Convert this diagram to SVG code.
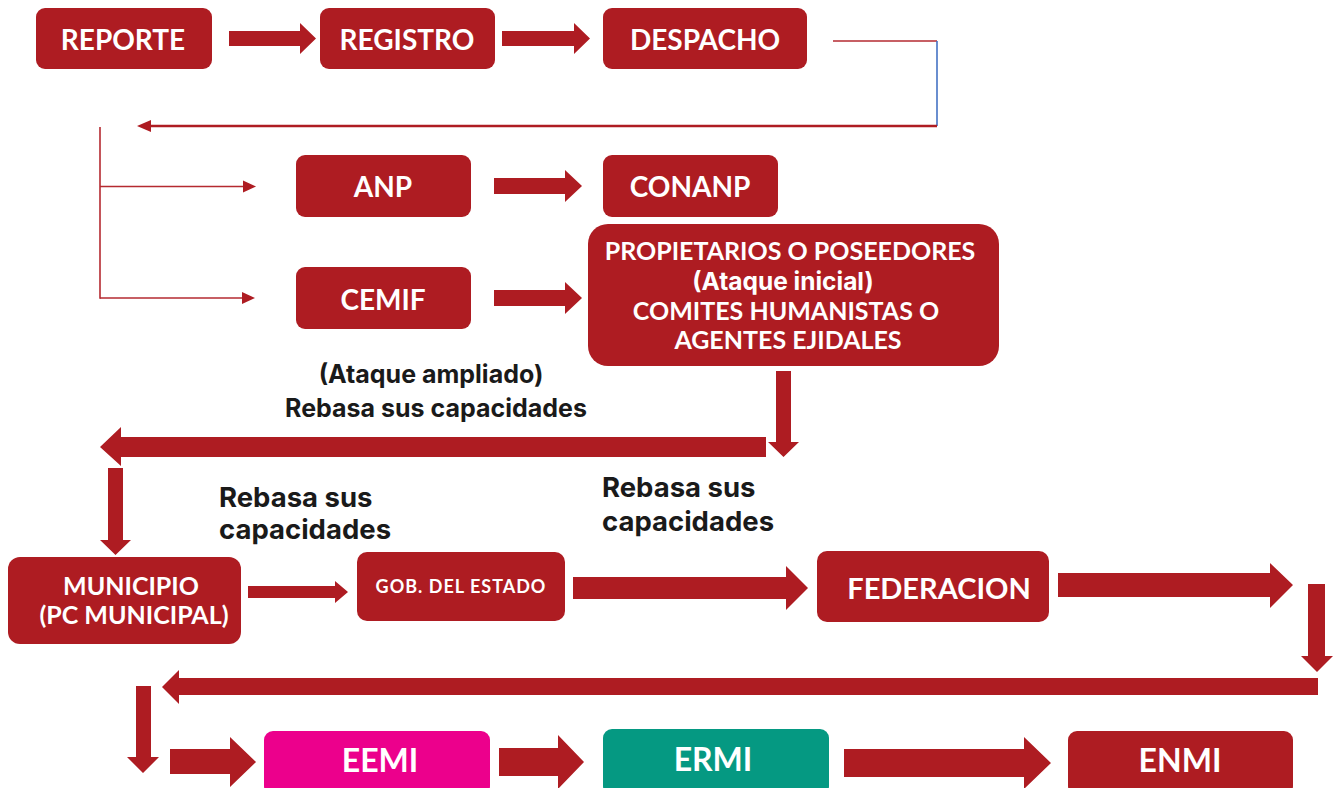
<svg xmlns="http://www.w3.org/2000/svg" width="1337" height="788" viewBox="0 0 1337 788">
<style>
.box{fill:#AE1C22}
.t{font-family:Lato,"Noto Sans",sans-serif;font-weight:700;fill:#FFFFFF;text-anchor:middle}
.ti{font-family:Inter,"Noto Sans",sans-serif;font-weight:700;fill:#FFFFFF;text-anchor:middle}
.lbl{font-family:Inter,"Noto Sans",sans-serif;font-weight:700;fill:#1A1A1A}
.fat{fill:#AE1C22}
.thin{stroke:#B52A30;stroke-width:1.6;fill:none}
</style>
<rect width="1337" height="788" fill="#FFFFFF"/>
<g id="connectors">
<polygon class="fat" points="229,31 300,31 300,23 316,38.5 300,54 300,46 229,46"/>
<polygon class="fat" points="502,31 574,31 574,23 590,38.5 574,54 574,46 502,46"/>
<polyline class="thin" points="833,41 937,41"/>
<line x1="937" y1="41" x2="937" y2="126" stroke="#4472C4" stroke-width="1.6"/>
<line x1="937" y1="126" x2="148" y2="126" stroke="#AE1C22" stroke-width="2.6"/>
<polygon class="fat" points="137,126 151,120 151,132"/>
<line class="thin" x1="100" y1="127" x2="100" y2="298.8"/>
<line class="thin" x1="100" y1="186.5" x2="245" y2="186.5"/>
<polygon class="fat" points="256,186.5 243,180.5 243,192.5"/>
<line class="thin" x1="100" y1="298" x2="244" y2="298"/>
<polygon class="fat" points="255,298 242,292 242,304"/>
<polygon class="fat" points="494,178 565,178 565,170 582,186 565,202 565,194 494,194"/>
<polygon class="fat" points="494,290 565,290 565,282 582,298 565,314 565,306 494,306"/>
<polygon class="fat" points="776,371 791,371 791,442 799,442 783.5,457 768,442 776,442"/>
<polygon class="fat" points="766,437 121,437 121,427 100,447 121,466 121,457 766,457"/>
<polygon class="fat" points="108,468 123,468 123,540 131,540 115.5,555 100,540 108,540"/>
<polygon class="fat" points="248,586 335,586 335,581 348,592 335,603 335,598 248,598"/>
<polygon class="fat" points="573,577 786,577 786,566 808,588 786,610 786,599 573,599"/>
<polygon class="fat" points="1058,573 1270,573 1270,563 1293,585 1270,608 1270,597 1058,597"/>
<polygon class="fat" points="1308,584 1325,584 1325,656 1333,656 1317,672 1301,656 1308,656"/>
<polygon class="fat" points="1318,678 179,678 179,670 162,687 179,704 179,695 1318,695"/>
<polygon class="fat" points="136,686 151,686 151,757 159,757 143,773 127,757 136,757"/>
<polygon class="fat" points="170,749 230,749 230,737 256,762 230,787 230,774 170,774"/>
<polygon class="fat" points="499,748 558,748 558,735 584,762 558,789 558,776 499,776"/>
<polygon class="fat" points="844,749 1024,749 1024,737 1051,763 1024,789 1024,777 844,777"/>
</g>
<g id="reporte"><rect class="box" x="36" y="8" width="176" height="61" rx="9"/><text class="t" x="123" y="50" font-size="28">REPORTE</text></g>
<g id="registro"><rect class="box" x="320" y="8" width="175" height="61" rx="9"/><text class="t" x="407" y="50" font-size="28">REGISTRO</text></g>
<g id="despacho"><rect class="box" x="603" y="8" width="204" height="61" rx="9"/><text class="t" x="705" y="50" font-size="28">DESPACHO</text></g>
<g id="anp"><rect class="box" x="296" y="155" width="175" height="62" rx="9"/><text class="t" x="383" y="197" font-size="28">ANP</text></g>
<g id="conanp"><rect class="box" x="603" y="155" width="175" height="62" rx="9"/><text class="t" x="690" y="197" font-size="28">CONANP</text></g>
<g id="cemif"><rect class="box" x="296" y="267" width="175" height="62" rx="9"/><text class="t" x="383" y="310" font-size="28">CEMIF</text></g>
<g id="propietarios"><rect class="box" x="588" y="224" width="411" height="142" rx="20"/>
<text class="t" x="790" y="260" font-size="25">PROPIETARIOS O POSEEDORES</text>
<text class="ti" x="783" y="290" font-size="24.5">(Ataque inicial)</text>
<text class="t" x="786" y="320" font-size="25">COMITES HUMANISTAS O</text>
<text class="t" x="788" y="349" font-size="25">AGENTES EJIDALES</text></g>
<g id="label-ampliado"><text class="lbl" x="431" y="383" font-size="25" text-anchor="middle">(Ataque ampliado)</text>
<text class="lbl" x="436" y="417" font-size="25" text-anchor="middle">Rebasa sus capacidades</text></g>
<g id="label-rebasa1"><text class="lbl" x="219" y="507" font-size="27.5">Rebasa sus</text><text class="lbl" x="219" y="539" font-size="27.5">capacidades</text></g>
<g id="label-rebasa2"><text class="lbl" x="602" y="497" font-size="27.5">Rebasa sus</text><text class="lbl" x="602" y="531" font-size="27.5">capacidades</text></g>
<g id="municipio"><rect class="box" x="8" y="557" width="233" height="87" rx="12"/>
<text class="t" x="131" y="595" font-size="25">MUNICIPIO</text>
<text class="t" x="134" y="624" font-size="25">(PC MUNICIPAL)</text></g>
<g id="gob-estado"><rect class="box" x="357" y="552" width="208" height="69" rx="10"/><text class="t" x="461" y="593" font-size="18" letter-spacing="1">GOB. DEL ESTADO</text></g>
<g id="federacion"><rect class="box" x="817" y="551" width="232" height="71" rx="10"/><text class="t" x="939" y="599" font-size="29">FEDERACION</text></g>
<g id="eemi"><rect x="264" y="731" width="226" height="64" rx="9" fill="#EC008C"/><text class="t" x="380" y="772" font-size="32">EEMI</text></g>
<g id="ermi"><rect x="603" y="729" width="226" height="66" rx="9" fill="#059982"/><text class="t" x="713" y="771" font-size="32">ERMI</text></g>
<g id="enmi"><rect class="box" x="1068" y="731" width="225" height="64" rx="9"/><text class="t" x="1180" y="772" font-size="32">ENMI</text></g>
</svg>
